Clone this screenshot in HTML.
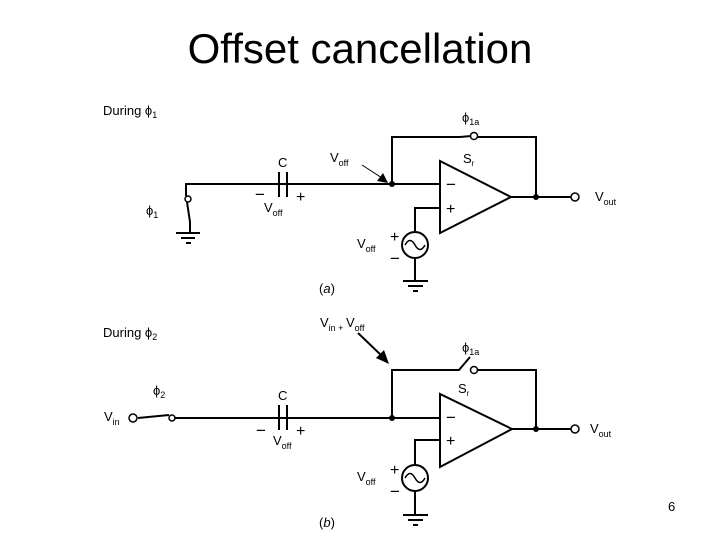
<!DOCTYPE html>
<html><head><meta charset="utf-8"><style>
html,body{margin:0;padding:0;background:#fff;}
svg{display:block;font-family:"Liberation Sans",Arial,sans-serif;font-variant-ligatures:none;}
</style></head><body>
<svg width="720" height="540" viewBox="0 0 720 540" xmlns="http://www.w3.org/2000/svg">
<rect width="720" height="540" fill="#fff"/>
<text x="360" y="63" font-size="42" text-anchor="middle" style="font-variant-ligatures:none">Of&#8203;fset cancellation</text>
<g stroke="#000" stroke-width="2" fill="none">
<polyline points="186,196 186,184 440,184"/>
<line x1="187" y1="202" x2="190" y2="222"/>
<line x1="190" y1="222" x2="190" y2="233"/>
<line x1="176" y1="233" x2="200" y2="233"/>
<line x1="181" y1="238" x2="195" y2="238"/>
<line x1="186" y1="243" x2="191" y2="243"/>
<line x1="279" y1="172" x2="279" y2="197"/>
<line x1="287" y1="172" x2="287" y2="197"/>
<polyline points="392,184 392,137 460,137"/>
<line x1="460" y1="137" x2="471" y2="136"/>
<polyline points="478,137 536,137 536,197"/>
<polygon points="440,161 440,233 511,197"/>
<line x1="511" y1="197" x2="571" y2="197"/>
<polyline points="440,208 415,208 415,232"/>
<circle cx="415" cy="245" r="13"/>
<line x1="415" y1="258" x2="415" y2="281"/>
<line x1="403" y1="281" x2="428" y2="281"/>
<line x1="408" y1="286" x2="423" y2="286"/>
<line x1="413" y1="291" x2="418" y2="291"/>
<path d="M405,245 q5,-9 10,0 t10,0" stroke-width="1.5"/>
<line x1="138" y1="418" x2="169" y2="415"/>
<line x1="175" y1="418" x2="440" y2="418"/>
<line x1="279" y1="405" x2="279" y2="430"/>
<line x1="287" y1="405" x2="287" y2="430"/>
<polyline points="392,418 392,370 459,370 470,357"/>
<polyline points="478,370 536,370 536,429"/>
<polygon points="440,394 440,467 512,429"/>
<line x1="512" y1="429" x2="571" y2="429"/>
<polyline points="440,440 415,440 415,465"/>
<circle cx="415" cy="478" r="13"/>
<line x1="415" y1="491" x2="415" y2="515"/>
<line x1="403" y1="515" x2="428" y2="515"/>
<line x1="408" y1="520" x2="423" y2="520"/>
<line x1="413" y1="525" x2="418" y2="525"/>
<path d="M405,478 q5,-9 10,0 t10,0" stroke-width="1.5"/>
</g>
<g stroke="#000" stroke-width="1.5" fill="#fff">
<circle cx="188" cy="199" r="3"/>
<circle cx="474" cy="136" r="3.5"/>
<circle cx="575" cy="197" r="4"/>
<circle cx="133" cy="418" r="4"/>
<circle cx="172" cy="418" r="3"/>
<circle cx="474" cy="370" r="3.5"/>
<circle cx="575" cy="429" r="4"/>
</g>
<g fill="#000">
<circle cx="392" cy="184" r="3"/>
<circle cx="536" cy="197" r="3"/>
<circle cx="392" cy="418" r="3"/>
<circle cx="536" cy="429" r="3"/>
</g>
<line x1="362" y1="165" x2="382" y2="178" stroke="#000" stroke-width="1"/>
<polygon points="388,183 377,181 383,173" fill="#000"/>
<line x1="358" y1="333" x2="382" y2="356" stroke="#000" stroke-width="2"/>
<polygon points="389,364 376,358 384,350" fill="#000"/>
<g font-size="13" fill="#000">
<text x="103" y="115">During ϕ<tspan font-size="9" dy="3">1</tspan></text>
<text x="462" y="122">ϕ<tspan font-size="9" dy="3">1a</tspan></text>
<text x="463" y="163">S<tspan font-size="8" dy="3">r</tspan></text>
<text x="278" y="167">C</text>
<text x="330" y="162">V<tspan font-size="9" dy="4">off</tspan></text>
<text x="255" y="200" font-size="17">−</text>
<text x="296" y="202" font-size="16">+</text>
<text x="264" y="212">V<tspan font-size="9" dy="4">off</tspan></text>
<text x="146" y="215">ϕ<tspan font-size="9" dy="3">1</tspan></text>
<text x="446" y="190" font-size="17">−</text>
<text x="446" y="214" font-size="16">+</text>
<text x="595" y="201">V<tspan font-size="9" dy="4">out</tspan></text>
<text x="357" y="248">V<tspan font-size="9" dy="4">off</tspan></text>
<text x="390" y="242" font-size="16">+</text>
<text x="390" y="264" font-size="17">−</text>
<text x="319" y="293">(<tspan font-style="italic">a</tspan>)</text>
<text x="103" y="337">During ϕ<tspan font-size="9" dy="3">2</tspan></text>
<text x="320" y="327">V<tspan font-size="9" dy="4">in + </tspan><tspan dy="-4">V</tspan><tspan font-size="9" dy="4">off</tspan></text>
<text x="462" y="352">ϕ<tspan font-size="9" dy="3">1a</tspan></text>
<text x="458" y="393">S<tspan font-size="8" dy="3">r</tspan></text>
<text x="153" y="395">ϕ<tspan font-size="9" dy="3">2</tspan></text>
<text x="278" y="400">C</text>
<text x="104" y="421">V<tspan font-size="9" dy="4">in</tspan></text>
<text x="256" y="436" font-size="17">−</text>
<text x="296" y="436" font-size="16">+</text>
<text x="273" y="445">V<tspan font-size="9" dy="4">off</tspan></text>
<text x="446" y="423" font-size="17">−</text>
<text x="446" y="446" font-size="16">+</text>
<text x="590" y="433">V<tspan font-size="9" dy="4">out</tspan></text>
<text x="357" y="481">V<tspan font-size="9" dy="4">off</tspan></text>
<text x="390" y="475" font-size="16">+</text>
<text x="390" y="497" font-size="17">−</text>
<text x="319" y="527">(<tspan font-style="italic">b</tspan>)</text>
<text x="668" y="511">6</text>
</g>
</svg>
</body></html>
